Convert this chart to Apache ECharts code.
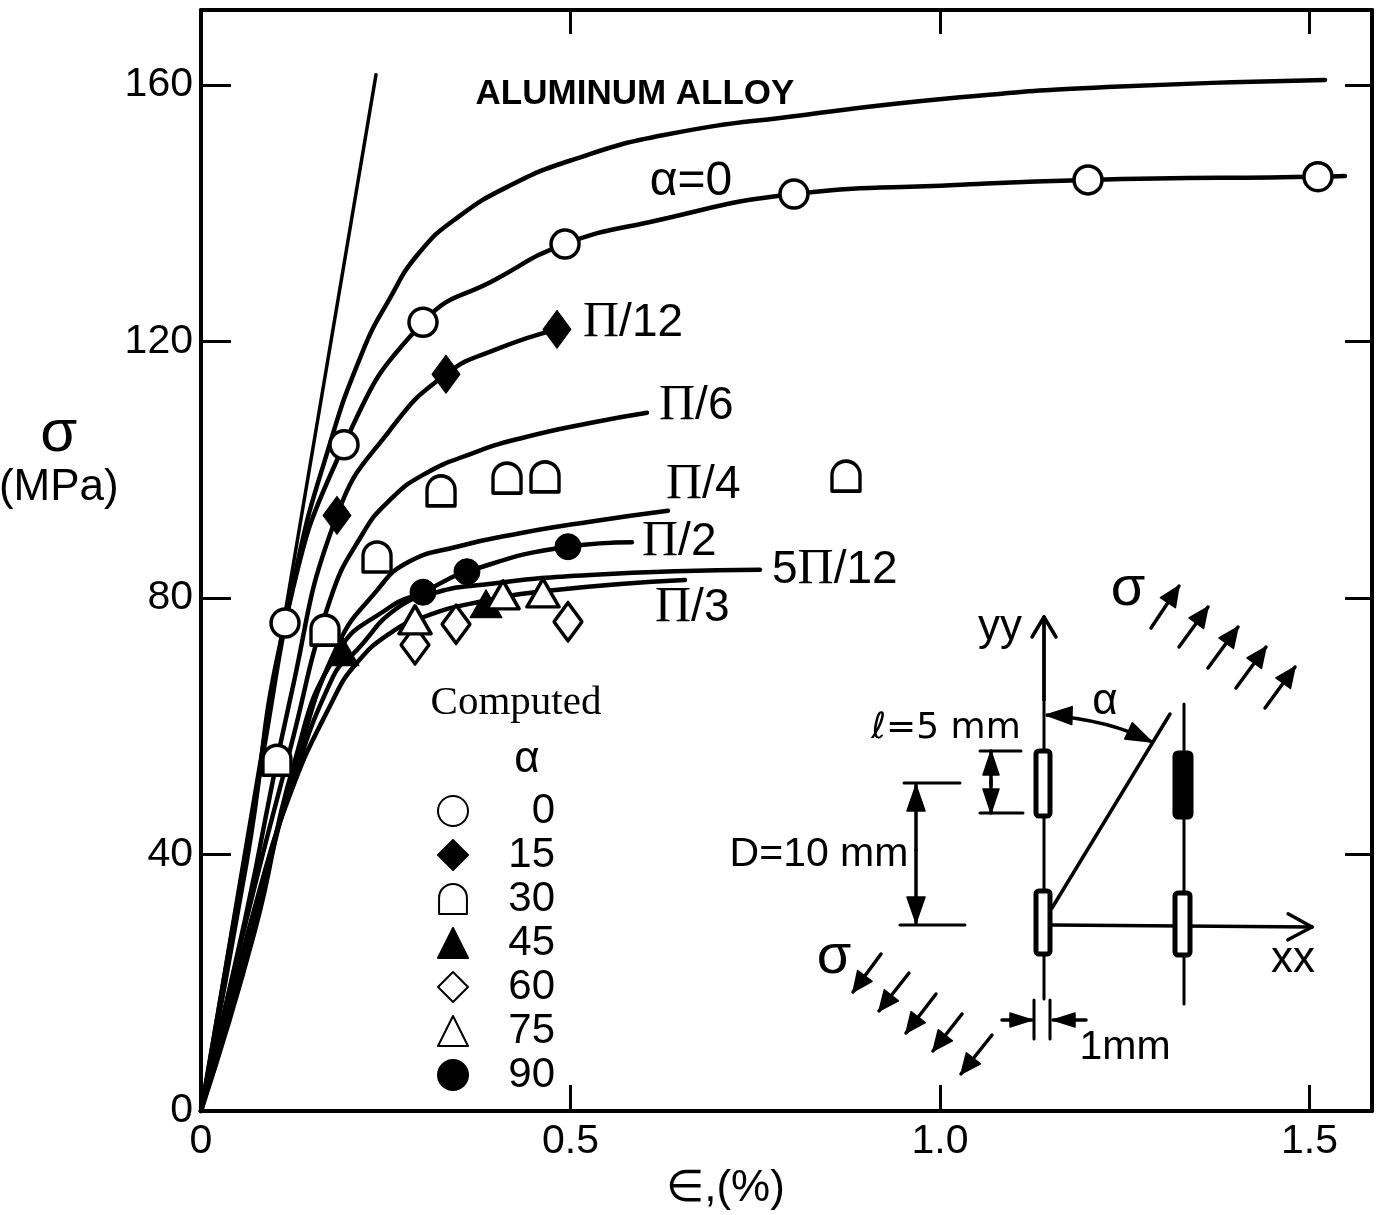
<!DOCTYPE html>
<html><head><meta charset="utf-8">
<style>html,body{margin:0;padding:0;background:#fff}#c{width:1389px;height:1215px}</style>
<script src="https://cdn.jsdelivr.net/npm/echarts@6/dist/echarts.min.js"></script>
</head><body><div id="c"></div>
<script>
const xTicks=[0,0.5,1.0,1.5];
const yTicks=[0,40,80,120,160];
const xMax=1.5846, yMax=171.7;

// Curves: [strain %, stress MPa]
const elastic=[[0,0],[0.2368,161.6]];
const aluminumAlloy=[[0,0],[0.0825,54.7],[0.1286,84.4],[0.1719,103.1],[0.2179,118.2],[0.2544,126.5],[0.295,133.8],[0.3478,139.4],[0.4195,144.4],[0.502,148.3],[0.6265,152.2],[0.8133,155.3],[1.0203,158.0],[1.226,159.7],[1.521,160.8]];
const curveA0=[[0,0],[0.0622,39.1],[0.1137,76.1],[0.1935,103.9],[0.3004,123.0],[0.3992,129.7],[0.4926,135.2],[0.6062,138.6],[0.8024,143.0],[1.0203,144.4],[1.2003,145.2],[1.5115,145.7],[1.548,145.8]];
const curvePi12=[[0,0],[0.0595,29.8],[0.1204,64.1],[0.184,92.9],[0.2558,106.2],[0.3315,114.9],[0.4046,119.0],[0.4817,121.9]];
const curvePi6=[[0,0],[0.0663,32.1],[0.1204,56.3],[0.1746,79.7],[0.2192,90.1],[0.2558,95.3],[0.3004,99.2],[0.3681,102.6],[0.4357,105.0],[0.5264,107.3],[0.6035,108.9]];
const curvePi4=[[0,0],[0.0731,29.8],[0.1299,54.6],[0.184,72.4],[0.2382,81.2],[0.2788,85.5],[0.3464,88.0],[0.4317,90.1],[0.5264,91.9],[0.6319,93.6]];
const curvePi2=[[0,0],[0.0731,28.2],[0.1245,53.6],[0.184,71.4],[0.2558,78.6],[0.3004,80.9],[0.3599,84.1],[0.4966,88.0],[0.5832,88.7]];
const curve5Pi12=[[0,0],[0.0663,29.0],[0.1164,48.5],[0.1786,67.7],[0.2111,71.9],[0.2652,78.4],[0.3194,80.9],[0.3735,82.0],[0.5264,83.6],[0.7564,84.4]];
const curvePi3=[[0,0],[0.0257,11.1],[0.0731,31.3],[0.1177,48.5],[0.1786,64.1],[0.2111,69.9],[0.2558,74.5],[0.3004,77.0],[0.3681,79.2],[0.4763,81.2],[0.6549,82.8]];

// Computed points by alpha
const pts0=[[0.1137,76.1],[0.1935,103.9],[0.3004,123.0],[0.4926,135.2],[0.8024,143.0],[1.2003,145.2],[1.5115,145.7]];
const pts15=[[0.184,92.9],[0.3315,114.9],[0.4817,121.9]];
const pts30=[[0.1028,54.7],[0.1678,75.0],[0.2382,86.4],[0.3248,96.7],[0.4141,98.7],[0.4655,98.9],[0.8728,99.0]];
const pts45=[[0.1922,71.6],[0.3857,79.1]];
const pts60=[[0.2896,72.7],[0.3451,75.9],[0.4966,76.3]];
const pts75=[[0.2896,76.6],[0.4087,80.5],[0.4628,80.8]];
const pts90=[[0.3004,80.9],[0.3599,84.1],[0.4966,88.0]];

const INK='#000';
const DOME='path://M2 30L2 15A13 13 0 0 1 28 15L28 30Z';
const lineS=(name,data,w)=>({type:'line',name,data,smooth:data.length>2?0.5:false,showSymbol:false,symbol:'none',z:3,
  lineStyle:{color:INK,width:w||4,cap:'round'},silent:true});
const ptS=(name,data,symbol,size,filled)=>({type:'scatter',name,data,symbol,symbolSize:size,z:5,silent:true,
  itemStyle:{color:filled?INK:'#fff',borderColor:INK,borderWidth:filled?1:3.5,borderJoin:'round',opacity:1}});

// ---- annotation helpers (inset schematic and labels)
const ln=(x1,y1,x2,y2,w)=>({type:'line',shape:{x1,y1,x2,y2},style:{stroke:INK,lineWidth:w||3,lineCap:'round'},silent:true});
const poly=(pts)=>({type:'polygon',shape:{points:pts},style:{fill:INK,stroke:INK,lineWidth:1.5,lineJoin:'round'},silent:true});
const rect=(x,y,w,h,fill)=>({type:'rect',shape:{x,y,width:w,height:h,r:3},style:{fill:fill||'#fff',stroke:INK,lineWidth:5},silent:true,z:2});
const txt=(text,x,y,size,extra)=>({type:'text',x,y,silent:true,z:6,style:Object.assign({text,fontFamily:'"Liberation Sans"',fontSize:size,fill:INK,textAlign:'center',textVerticalAlign:'middle'},extra||{})});
const piTxt=(pre,post,x,y)=>txt('{a|'+pre+'}{p|Π}{a|'+post+'}',x,y,46,{rich:{a:{fontFamily:'"Liberation Sans"',fontSize:46,fill:INK},p:{fontFamily:'"Liberation Serif"',fontSize:50,fill:INK}},textAlign:'left'});
function openArrow(x1,y1,x2,y2,len,hw){const a=Math.atan2(y2-y1,x2-x1),c=Math.cos(a),s=Math.sin(a);
  return [ln(x1,y1,x2,y2,3.5),ln(x2,y2,x2-len*c+hw*s,y2-len*s-hw*c,3.5),ln(x2,y2,x2-len*c-hw*s,y2-len*s+hw*c,3.5)];}
function fillArrow(x1,y1,x2,y2,len,hw){const a=Math.atan2(y2-y1,x2-x1),c=Math.cos(a),s=Math.sin(a);
  return [ln(x1,y1,x2,y2,3.5),poly([[x2,y2],[x2-len*c+hw*s,y2-len*s-hw*c],[x2-len*c-hw*s,y2-len*s+hw*c]])];}
function headOnly(x1,y1,x2,y2,len,hw){return fillArrow(x1,y1,x2,y2,len,hw)[1];}

const graphics=[].concat(
  [txt('ALUMINUM ALLOY',635,94,35,{fontWeight:'bold'}),
   txt('α=0',691,182,48),
   piTxt('','/12',583,323),
   piTxt('','/6',659,406),
   piTxt('','/4',666,485),
   piTxt('','/2',642,542),
   piTxt('5','/12',772,570),
   piTxt('','/3',655,608),
   txt('Computed',516,703,41,{fontFamily:'"Liberation Serif"'}),
   txt('α',527,760,44),
   // inset labels
   txt('σ',1128,590,56),txt('σ',834,958,56),
   txt('yy',1000,628,44),txt('xx',1293,960,44),txt('α',1105,702,44),
   txt('ℓ=5 mm',946,729,38,{fontFamily:'"DejaVu Sans"',fontSize:36}),
   txt('D=10 mm',819,855,41),
   txt('1mm',1125,1048,41),
   // specimen lines
   ln(1044,617,1044,999),ln(1184,704,1184,1004),
   ln(1052,908,1170,714,3.5),
   rect(1036,751,14,65),rect(1036,891,14,63),rect(1175,753,16,64,'#000'),rect(1175,893,15,62),
   // dims
   ln(980,751,1021,751),ln(980,813,1023,813),ln(904,783,960,783),ln(900,925,965,925),
   ln(1034,1000,1034,1039),ln(1050,1000,1050,1039),
   {type:'bezierCurve',shape:{x1:1046,y1:715,x2:1152,y2:742,cpx1:1085,cpy1:718,cpx2:1120,cpy2:725},style:{stroke:INK,lineWidth:3.5,fill:null},silent:true}
  ],
  openArrow(1044,700,1044,617,20,12),
  openArrow(1052,925,1312,927,24,13),
  [headOnly(1090,716,1046,715,26,9),headOnly(1110,722,1152,742,26,9)],
  fillArrow(991,785,991,751,24,8),fillArrow(991,780,991,813,24,8),
  fillArrow(916,850,916,785,26,9),fillArrow(916,850,916,923,26,9),
  fillArrow(1002,1020,1032,1020,22,7),fillArrow(1086,1020,1053,1020,22,7),
  fillArrow(1151,628,1179,586,20,9),fillArrow(1179,647,1208,607,20,9),fillArrow(1208,668,1238,627,20,9),fillArrow(1236,688,1266,647,20,9),fillArrow(1265,708,1295,667,20,9),
  fillArrow(881,954,853,992,20,9),fillArrow(909,973,879,1011,20,9),fillArrow(936,994,906,1033,20,9),fillArrow(962,1014,933,1051,20,9),fillArrow(992,1035,961,1074,20,9)
);

const axisLine={show:true,onZero:false,lineStyle:{color:INK,width:4}};
const font='"Liberation Sans"';
const chart=echarts.init(document.getElementById('c'),null,{renderer:'canvas'});
chart.setOption({
  animation:false,backgroundColor:'#fff',
  grid:{left:201,top:10,width:1171,height:1101,containLabel:false,outerBoundsMode:'none'},
  xAxis:[
   {type:'value',min:0,max:xMax,position:'bottom',axisLine,splitLine:{show:false},
    axisTick:{show:true,inside:true,length:26,customValues:xTicks,lineStyle:{color:INK,width:3}},
    axisLabel:{show:true,margin:10,customValues:xTicks,fontFamily:font,fontSize:41,color:INK,formatter:v=>v===0?'0':v.toFixed(1)},
    name:'∈,(%)',nameLocation:'middle',nameGap:56,nameTextStyle:{fontFamily:font,fontSize:44,color:INK,padding:[0,122,0,0]}},
   {type:'value',min:0,max:xMax,position:'top',axisLine,splitLine:{show:false},
    axisTick:{show:true,inside:true,length:24,customValues:xTicks.slice(1),lineStyle:{color:INK,width:3}},axisLabel:{show:false}}
  ],
  yAxis:[
   {type:'value',min:0,max:yMax,position:'left',axisLine,splitLine:{show:false},
    axisTick:{show:true,inside:true,length:30,customValues:yTicks.slice(1),lineStyle:{color:INK,width:3}},
    axisLabel:{show:true,margin:8,customValues:yTicks,fontFamily:font,fontSize:41,color:INK},
    name:'{s|σ}\n{m|(MPa)}',nameLocation:'middle',nameRotate:0,nameGap:62,
    nameTextStyle:{color:INK,padding:[0,0,204,0],rich:{s:{fontFamily:font,fontSize:60,fill:INK,lineHeight:58,align:'center'},m:{fontFamily:font,fontSize:44,fill:INK,lineHeight:48,align:'center'}}}},
   {type:'value',min:0,max:yMax,position:'right',axisLine,splitLine:{show:false},
    axisTick:{show:true,inside:true,length:27,customValues:yTicks.slice(1),lineStyle:{color:INK,width:3}},axisLabel:{show:false}}
  ],
  legend:{show:true,orient:'vertical',left:437,top:789,padding:0,itemWidth:30,itemHeight:30,itemGap:0,align:'left',
    data:['0','15','30','45','60','75','90'],selectedMode:false,
    formatter:n=>'{n|'+n+'}',
    textStyle:{fontFamily:font,fontSize:42,color:INK,lineHeight:44,rich:{n:{width:82,align:'right',fontFamily:font,fontSize:42,lineHeight:44}}}},
  graphic:graphics,
  series:[
    lineS('Elastic',elastic,3.5),
    lineS('Aluminum alloy',aluminumAlloy,4.5),
    lineS('α=0',curveA0,4.5),
    lineS('π/12',curvePi12,4.5),
    lineS('π/6',curvePi6,4.5),
    lineS('π/4',curvePi4,4.5),
    lineS('π/2',curvePi2,4.5),
    lineS('5π/12',curve5Pi12,4.5),
    lineS('π/3',curvePi3,4.5),
    ptS('0',pts0,'circle',28,false),
    ptS('15',pts15,'diamond',[28,38],true),
    ptS('30',pts30,DOME,[28,30],false),
    ptS('45',pts45,'triangle',[32,28],true),
    ptS('60',pts60,'diamond',[28,38],false),
    ptS('75',pts75,'triangle',[32,28],false),
    ptS('90',pts90,'circle',26,true)
  ]
});
</script></body></html>
